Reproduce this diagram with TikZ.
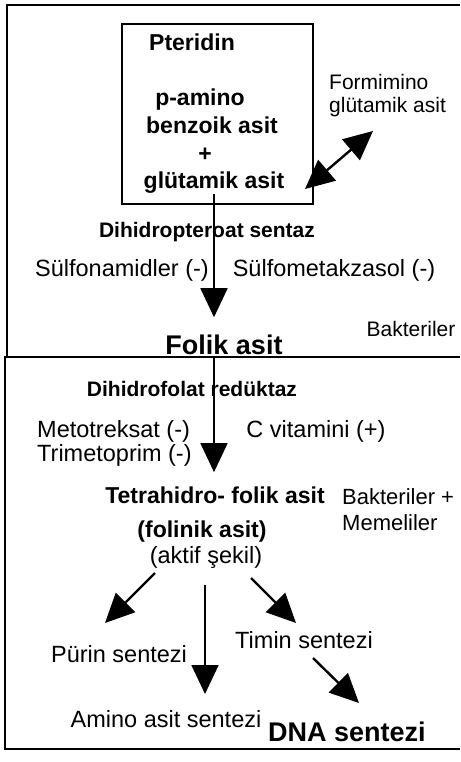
\documentclass[tikz,border=0pt]{standalone}
\usepackage{fontspec}
\setmainfont{Liberation Sans}
\usetikzlibrary{arrows.meta}

\begin{document}
\begin{tikzpicture}[x=1pt,y=-1pt,>={Triangle[length=29pt,width=27pt]},
 txt/.style={inner sep=0pt,anchor=base,font=\fontsize{23.5}{27}\selectfont},
 sml/.style={txt,font=\fontsize{21}{25}\selectfont},
 mid/.style={txt,font=\fontsize{22}{26}\selectfont},
 bld/.style={txt,font=\fontsize{23}{27}\selectfont\bfseries},
 enz/.style={txt,font=\fontsize{21}{25}\selectfont\bfseries},
 big/.style={txt,font=\fontsize{27}{31}\selectfont\bfseries},
 fr/.style={line width=1.8pt},
 ar/.style={->,line width=1.8pt},
 dar/.style={->,line width=2.4pt}]
\useasboundingbox (0,0) rectangle (460,762);
% frames
\draw[fr] (460,5) -- (7,5) -- (7,357) -- (460,357);
\draw[fr] (460,357) -- (5,357) -- (5,749) -- (460,749);
\draw[fr] (122,24) rectangle (313,204);
% top part
\node[bld] (pter) at (192,51) {Pteridin};
\node[bld] (pamino) at (200,106) {p-amino};
\node[bld] (benz) at (212,134) {benzoik asit};
\node[bld] (plus) at (205,162) {+};
\node[bld] (glu) at (214,189) {glütamik asit};
\node[sml,anchor=base west] (form) at (329,90) {Formimino};
\node[sml,anchor=base west] (formglu) at (329,113) {glütamik asit};
\node[enz] (dhps) at (207,237) {Dihidropteroat sentaz};
\node[txt] (sulfa) at (122,276) {Sülfonamidler (-)};
\node[txt] (sulfm) at (334,276) {Sülfometakzasol (-)};
\node[sml] (bakt) at (411,336) {Bakteriler};
\node[big] (folik) at (224,354) {Folik asit};
% bottom part
\node[enz] (dhfr) at (192,396) {Dihidrofolat redüktaz};
\node[txt,anchor=base west] (mtx) at (37,437) {Metotreksat (-)};
\node[txt,anchor=base west] (tmp) at (37,461) {Trimetoprim (-)};
\node[txt] (cvit) at (316,437) {C vitamini (+)};
\node[bld] (thf) at (215,503) {Tetrahidro- folik asit};
\node[mid,anchor=base west] (baktm) at (342,504) {Bakteriler +};
\node[mid,anchor=base west] (meme) at (342,530) {Memeliler};
\node[bld] (folin) at (202,537) {(folinik asit)};
\node[txt] (aktif) at (206,563) {(aktif şekil)};
\node[txt] (purin) at (119,662) {Pürin sentezi};
\node[txt] (timin) at (304,648) {Timin sentezi};
\node[txt] (amino) at (166,727) {Amino asit sentezi};
\node[big] (dna) at (347,741) {DNA sentezi};
% arrow ends
\coordinate (a1) at (155,573);
\coordinate (p1) at (105,623);
\coordinate (a2) at (205,585);
\coordinate (m1) at (205,694);
\coordinate (a3) at (251,578);
\coordinate (t1) at (296,623);
\coordinate (t2) at (313,658);
\coordinate (d1) at (359,703);
\coordinate (g1) at (305,189);
\coordinate (f1) at (373,131);
% arrows
\draw[ar] (glu.south) -- (glu.south |- folik.north) [shorten >=17pt];
\draw[ar] (glu.south |- folik.south) -- (glu.south |- thf.north) [shorten >=14pt,shorten <=3pt];
\draw[dar,<->] (g1) -- (f1);
\draw[dar] (a1) -- (p1);
\draw[ar] (a2) -- (m1);
\draw[dar] (a3) -- (t1);
\draw[dar] (t2) -- (d1);
\end{tikzpicture}
\end{document}
